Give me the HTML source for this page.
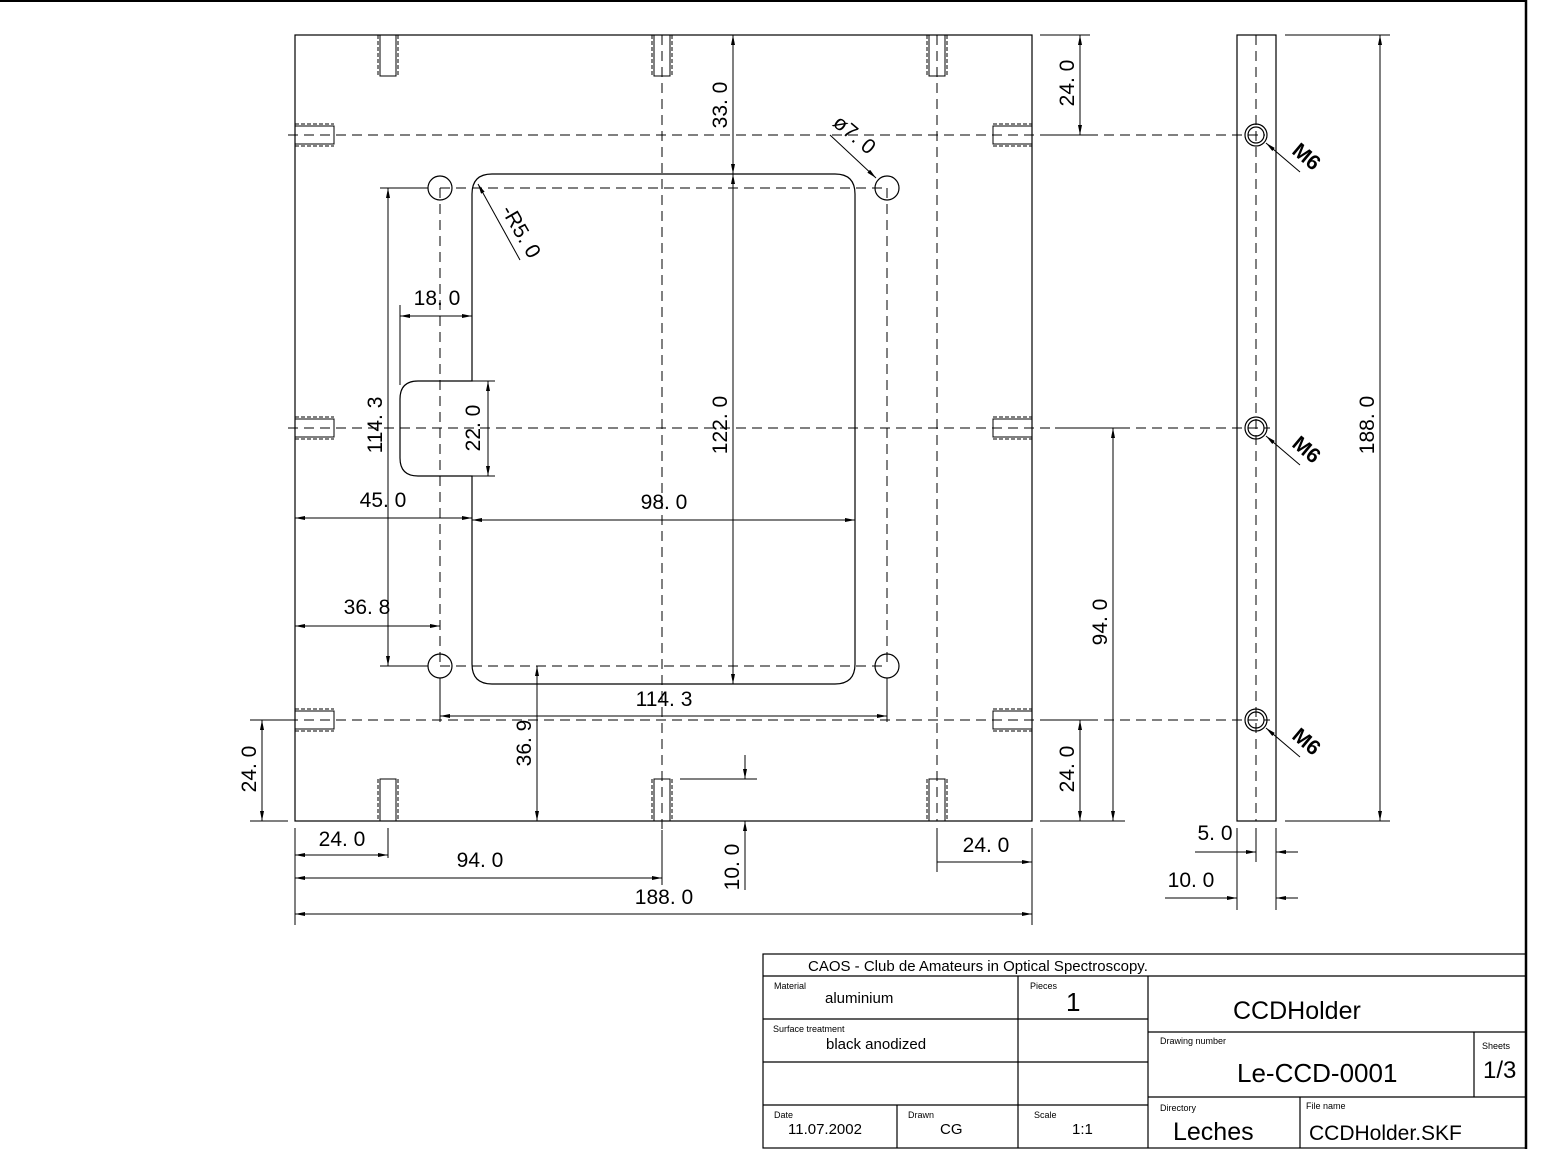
<!DOCTYPE html>
<html><head><meta charset="utf-8"><style>
html,body{margin:0;padding:0;background:#fff;}
svg{display:block;font-family:"Liberation Sans",sans-serif;}
text{fill:#000;}
</style></head><body>
<svg width="1557" height="1171" viewBox="0 0 1557 1171" xmlns="http://www.w3.org/2000/svg">
<defs>
<marker id="a" viewBox="0 0 10 4" refX="10" refY="2" markerWidth="10" markerHeight="4" orient="auto-start-reverse" markerUnits="userSpaceOnUse"><path d="M0,0L10,2L0,4z" fill="#000"/></marker>
</defs>
<g fill="none" stroke="#000" stroke-width="1.2">
<!-- frame -->
<line x1="0" y1="1" x2="1526" y2="1" stroke-width="2"/>
<line x1="1526" y1="0" x2="1526" y2="1149" stroke-width="2.5"/>
<!-- plate -->
<rect x="295" y="35" width="737" height="786"/>
<!-- centerlines -->
<g stroke-dasharray="10,6" stroke-width="1">
<line x1="288" y1="135" x2="1265" y2="135"/>
<line x1="288" y1="428" x2="1270" y2="428"/>
<line x1="288" y1="720" x2="1270" y2="720"/>
<line x1="662" y1="35" x2="662" y2="830"/>
<line x1="937" y1="35" x2="937" y2="821"/>
<line x1="440" y1="188" x2="887" y2="188"/>
<line x1="440" y1="666" x2="887" y2="666"/>
<line x1="440" y1="188" x2="440" y2="666"/>
<line x1="887" y1="188" x2="887" y2="666"/>
<line x1="1256" y1="35" x2="1256" y2="821"/>
</g>
<!-- tapped holes -->
<g stroke-width="1">
<g stroke-dasharray="4,2">
<line x1="378" y1="35" x2="378" y2="76"/><line x1="398" y1="35" x2="398" y2="76"/>
<line x1="652" y1="35" x2="652" y2="76"/><line x1="672" y1="35" x2="672" y2="76"/>
<line x1="927" y1="35" x2="927" y2="76"/><line x1="947" y1="35" x2="947" y2="76"/>
<line x1="378" y1="779" x2="378" y2="821"/><line x1="398" y1="779" x2="398" y2="821"/>
<line x1="652" y1="779" x2="652" y2="821"/><line x1="672" y1="779" x2="672" y2="821"/>
<line x1="927" y1="779" x2="927" y2="821"/><line x1="947" y1="779" x2="947" y2="821"/>
<line x1="295" y1="124" x2="334" y2="124"/><line x1="295" y1="146" x2="334" y2="146"/>
<line x1="295" y1="417" x2="334" y2="417"/><line x1="295" y1="439" x2="334" y2="439"/>
<line x1="295" y1="709" x2="334" y2="709"/><line x1="295" y1="731" x2="334" y2="731"/>
<line x1="993" y1="124" x2="1032" y2="124"/><line x1="993" y1="146" x2="1032" y2="146"/>
<line x1="993" y1="417" x2="1032" y2="417"/><line x1="993" y1="439" x2="1032" y2="439"/>
<line x1="993" y1="709" x2="1032" y2="709"/><line x1="993" y1="731" x2="1032" y2="731"/>
</g>
<path d="M380,35V76H396V35M654,35V76H670V35M929,35V76H945V35"/>
<path d="M380,821V779H396V821M654,821V779H670V821M929,821V779H945V821"/>
<path d="M295,126H334V144H295M295,419H334V437H295M295,711H334V729H295"/>
<path d="M1032,126H993V144H1032M1032,419H993V437H1032M1032,711H993V729H1032"/>
</g>
<!-- mounting holes -->
<circle cx="440" cy="188" r="12"/><circle cx="887" cy="188" r="12"/>
<circle cx="440" cy="666" r="12"/><circle cx="887" cy="666" r="12"/>
<!-- window -->
<path d="M492,174H835Q855,174 855,194V664Q855,684 835,684H492Q472,684 472,664V476H418Q400,476 400,458V399Q400,381 418,381H472V194Q472,174 492,174Z"/>
<!-- side view -->
<rect x="1237" y="35" width="39" height="786"/>
<circle cx="1256" cy="135" r="11"/><circle cx="1256" cy="135" r="8"/>
<circle cx="1256" cy="428" r="11"/><circle cx="1256" cy="428" r="8"/>
<circle cx="1256" cy="720" r="11"/><circle cx="1256" cy="720" r="8"/>
<g stroke-width="1">
<line x1="1266" y1="143" x2="1300" y2="172" marker-start="url(#a)"/>
<line x1="1266" y1="436" x2="1300" y2="465" marker-start="url(#a)"/>
<line x1="1266" y1="728" x2="1300" y2="757" marker-start="url(#a)"/>
<!-- dims -->
<line x1="733" y1="35" x2="733" y2="174" marker-start="url(#a)" marker-end="url(#a)"/>
<line x1="733" y1="174" x2="733" y2="684" marker-start="url(#a)" marker-end="url(#a)"/>
<line x1="876" y1="178" x2="830" y2="135" marker-start="url(#a)"/>
<line x1="478" y1="184" x2="520" y2="260" marker-start="url(#a)"/>
<line x1="380" y1="188" x2="428" y2="188"/><line x1="380" y1="666" x2="428" y2="666"/>
<line x1="388" y1="188" x2="388" y2="666" marker-start="url(#a)" marker-end="url(#a)"/>
<line x1="400" y1="305" x2="400" y2="385"/><line x1="472" y1="305" x2="472" y2="381"/>
<line x1="400" y1="316" x2="472" y2="316" marker-start="url(#a)" marker-end="url(#a)"/>
<line x1="472" y1="381" x2="495" y2="381"/><line x1="472" y1="476" x2="495" y2="476"/>
<line x1="488" y1="381" x2="488" y2="476" marker-start="url(#a)" marker-end="url(#a)"/>
<line x1="295" y1="518" x2="472" y2="518" marker-start="url(#a)" marker-end="url(#a)"/>
<line x1="472" y1="520" x2="855" y2="520" marker-start="url(#a)" marker-end="url(#a)"/>
<line x1="295" y1="626" x2="440" y2="626" marker-start="url(#a)" marker-end="url(#a)"/>
<line x1="440" y1="678" x2="440" y2="722"/><line x1="887" y1="678" x2="887" y2="722"/>
<line x1="440" y1="716" x2="887" y2="716" marker-start="url(#a)" marker-end="url(#a)"/>
<line x1="537" y1="666" x2="537" y2="821" marker-start="url(#a)" marker-end="url(#a)"/>
<line x1="1040" y1="35" x2="1090" y2="35"/><line x1="1040" y1="135" x2="1090" y2="135"/>
<line x1="1080" y1="35" x2="1080" y2="135" marker-start="url(#a)" marker-end="url(#a)"/>
<line x1="1055" y1="428" x2="1125" y2="428"/><line x1="1040" y1="821" x2="1125" y2="821"/>
<line x1="1113" y1="428" x2="1113" y2="821" marker-start="url(#a)" marker-end="url(#a)"/>
<line x1="1040" y1="720" x2="1090" y2="720"/>
<line x1="1080" y1="720" x2="1080" y2="821" marker-start="url(#a)" marker-end="url(#a)"/>
<line x1="250" y1="720" x2="288" y2="720"/><line x1="250" y1="821" x2="288" y2="821"/>
<line x1="262" y1="720" x2="262" y2="821" marker-start="url(#a)" marker-end="url(#a)"/>
<line x1="295" y1="828" x2="295" y2="925"/><line x1="388" y1="828" x2="388" y2="858"/>
<line x1="662" y1="830" x2="662" y2="885"/><line x1="1032" y1="828" x2="1032" y2="925"/>
<line x1="937" y1="828" x2="937" y2="872"/>
<line x1="295" y1="855" x2="388" y2="855" marker-start="url(#a)" marker-end="url(#a)"/>
<line x1="295" y1="878" x2="662" y2="878" marker-start="url(#a)" marker-end="url(#a)"/>
<line x1="295" y1="914" x2="1032" y2="914" marker-start="url(#a)" marker-end="url(#a)"/>
<line x1="937" y1="862" x2="1032" y2="862" marker-end="url(#a)"/>
<line x1="680" y1="779" x2="757" y2="779"/>
<line x1="745" y1="755" x2="745" y2="779" marker-end="url(#a)"/>
<line x1="745" y1="890" x2="745" y2="821" marker-end="url(#a)"/>
<line x1="1285" y1="35" x2="1390" y2="35"/><line x1="1285" y1="821" x2="1390" y2="821"/>
<line x1="1380" y1="35" x2="1380" y2="821" marker-start="url(#a)" marker-end="url(#a)"/>
<line x1="1237" y1="828" x2="1237" y2="910"/><line x1="1276" y1="828" x2="1276" y2="910"/>
<line x1="1256" y1="828" x2="1256" y2="862"/>
<line x1="1195" y1="852" x2="1256" y2="852" marker-end="url(#a)"/><line x1="1298" y1="852" x2="1276" y2="852" marker-end="url(#a)"/>
<line x1="1165" y1="898" x2="1237" y2="898" marker-end="url(#a)"/><line x1="1298" y1="898" x2="1276" y2="898" marker-end="url(#a)"/>
</g>
<!-- title block -->
<g stroke-width="1.2">
<rect x="763" y="954" width="763" height="194"/>
<line x1="763" y1="976" x2="1526" y2="976"/>
<line x1="763" y1="1019" x2="1148" y2="1019"/>
<line x1="763" y1="1062" x2="1148" y2="1062"/>
<line x1="763" y1="1105" x2="1148" y2="1105"/>
<line x1="1018" y1="976" x2="1018" y2="1148"/>
<line x1="1148" y1="976" x2="1148" y2="1148"/>
<line x1="897" y1="1105" x2="897" y2="1148"/>
<line x1="1148" y1="1032" x2="1526" y2="1032"/>
<line x1="1148" y1="1097" x2="1526" y2="1097"/>
<line x1="1474" y1="1032" x2="1474" y2="1097"/>
<line x1="1300" y1="1097" x2="1300" y2="1148"/>
</g>
</g>
<g font-size="21">
<text x="733" y="105" transform="rotate(-90 733 105)" text-anchor="middle" dy="-6">33. 0</text>
<text x="733" y="425" transform="rotate(-90 733 425)" text-anchor="middle" dy="-6">122. 0</text>
<text x="850" y="140" transform="rotate(40 850 140)" text-anchor="middle">ø7. 0</text>
<text x="515" y="235" transform="rotate(60 515 235)" text-anchor="middle">-R5. 0</text>
<text x="437" y="305" text-anchor="middle">18. 0</text>
<text x="388" y="425" transform="rotate(-90 388 425)" text-anchor="middle" dy="-6">114. 3</text>
<text x="486" y="428" transform="rotate(-90 486 428)" text-anchor="middle" dy="-6">22. 0</text>
<text x="383" y="507" text-anchor="middle">45. 0</text>
<text x="664" y="509" text-anchor="middle">98. 0</text>
<text x="367" y="614" text-anchor="middle">36. 8</text>
<text x="664" y="706" text-anchor="middle">114. 3</text>
<text x="537" y="743" transform="rotate(-90 537 743)" text-anchor="middle" dy="-6">36. 9</text>
<text x="1080" y="83" transform="rotate(-90 1080 83)" text-anchor="middle" dy="-6">24. 0</text>
<text x="1113" y="622" transform="rotate(-90 1113 622)" text-anchor="middle" dy="-6">94. 0</text>
<text x="1080" y="769" transform="rotate(-90 1080 769)" text-anchor="middle" dy="-6">24. 0</text>
<text x="262" y="769" transform="rotate(-90 262 769)" text-anchor="middle" dy="-6">24. 0</text>
<text x="342" y="846" text-anchor="middle">24. 0</text>
<text x="480" y="867" text-anchor="middle">94. 0</text>
<text x="664" y="904" text-anchor="middle">188. 0</text>
<text x="986" y="852" text-anchor="middle">24. 0</text>
<text x="745" y="867" transform="rotate(-90 745 867)" text-anchor="middle" dy="-6">10. 0</text>
<text x="1380" y="425" transform="rotate(-90 1380 425)" text-anchor="middle" dy="-6">188. 0</text>
<text x="1215" y="840" text-anchor="middle">5. 0</text>
<text x="1191" y="887" text-anchor="middle">10. 0</text>
<text x="1302" y="162" transform="rotate(40 1302 162)" text-anchor="middle" font-weight="bold">M6</text>
<text x="1302" y="455" transform="rotate(40 1302 455)" text-anchor="middle" font-weight="bold">M6</text>
<text x="1302" y="747" transform="rotate(40 1302 747)" text-anchor="middle" font-weight="bold">M6</text>
</g>
<g>
<text x="808" y="971" font-size="15">CAOS - Club de Amateurs in Optical Spectroscopy.</text>
<text x="774" y="989" font-size="9">Material</text>
<text x="825" y="1003" font-size="15">aluminium</text>
<text x="1030" y="989" font-size="9">Pieces</text>
<text x="1066" y="1011" font-size="26">1</text>
<text x="773" y="1032" font-size="9">Surface treatment</text>
<text x="826" y="1049" font-size="15">black anodized</text>
<text x="774" y="1118" font-size="9">Date</text>
<text x="788" y="1134" font-size="15">11.07.2002</text>
<text x="908" y="1118" font-size="9">Drawn</text>
<text x="940" y="1134" font-size="15">CG</text>
<text x="1034" y="1118" font-size="9">Scale</text>
<text x="1072" y="1134" font-size="15">1:1</text>
<text x="1233" y="1019" font-size="25">CCDHolder</text>
<text x="1160" y="1044" font-size="9">Drawing number</text>
<text x="1237" y="1082" font-size="26">Le-CCD-0001</text>
<text x="1482" y="1049" font-size="9">Sheets</text>
<text x="1483" y="1078" font-size="24">1/3</text>
<text x="1160" y="1111" font-size="9">Directory</text>
<text x="1173" y="1140" font-size="25">Leches</text>
<text x="1306" y="1109" font-size="9">File name</text>
<text x="1309" y="1140" font-size="21">CCDHolder.SKF</text>
</g>
</svg>
</body></html>
